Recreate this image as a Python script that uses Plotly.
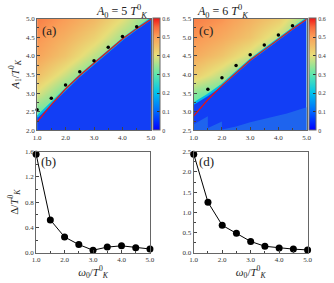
import plotly.graph_objects as go

W, H = 334, 283

# ---------------- data ----------------
omega = [1.0, 1.5, 2.0, 2.5, 3.0, 3.5, 4.0, 4.5, 5.0]

# panel (a): A0 = 5 T_K
a_mark_x = [1.0, 1.5, 2.0, 2.5, 3.0, 3.5, 4.0, 4.5]
a_mark_y = [2.55, 2.86, 3.22, 3.57, 3.87, 4.23, 4.52, 4.78]
a_red = [2.22, 2.69, 3.11, 3.47, 3.80, 4.13, 4.45, 4.73, 4.98]
a_edge = [2.36, 2.72, 3.10, 3.47, 3.80, 4.14, 4.45, 4.73, 5.00]
hm_x = [1.0, 2.0, 3.0, 4.0, 5.0]
a_hm_y = [2.0, 2.5, 3.0, 3.5, 4.0, 4.5, 5.0]
a_hm_z = [
    [0.28, 0.28, 0.28, 0.28, 0.28],
    [0.31, 0.29, 0.28, 0.28, 0.28],
    [0.39, 0.31, 0.29, 0.28, 0.28],
    [0.45, 0.38, 0.30, 0.28, 0.28],
    [0.49, 0.44, 0.37, 0.30, 0.28],
    [0.51, 0.47, 0.42, 0.35, 0.30],
    [0.53, 0.50, 0.46, 0.40, 0.32],
]

# panel (c): A0 = 6 T_K
c_mark_x = [1.5, 2.0, 2.5, 3.0, 3.5, 4.0, 4.5]
c_mark_y = [3.60, 3.91, 4.24, 4.53, 4.79, 5.06, 5.31]
c_red = [2.89, 3.32, 3.70, 4.05, 4.38, 4.66, 4.95, 5.22, 5.48]
c_edge = [3.22, 3.45, 3.72, 4.06, 4.39, 4.67, 4.96, 5.23, 5.50]
c_hm_y = [2.5, 3.0, 3.5, 4.0, 4.5, 5.0, 5.5]
c_hm_z = [
    [0.28, 0.28, 0.28, 0.28, 0.28],
    [0.28, 0.28, 0.28, 0.28, 0.28],
    [0.33, 0.29, 0.28, 0.28, 0.28],
    [0.43, 0.37, 0.29, 0.28, 0.28],
    [0.48, 0.44, 0.38, 0.29, 0.28],
    [0.51, 0.48, 0.44, 0.37, 0.29],
    [0.53, 0.51, 0.47, 0.43, 0.33],
]
c_light_x = [1.0, 1.0, 1.5, 1.5, 2.0, 2.0, 2.5, 3.0, 4.0, 4.3, 5.0, 5.0]
c_light_y = [2.5, 2.66, 2.88, 2.56, 2.74, 2.52, 2.6, 2.72, 2.9, 2.95, 3.12, 2.5]

# panel (b), (d): gap
b_delta = [1.56, 0.52, 0.25, 0.13, 0.04, 0.09, 0.11, 0.08, 0.06]
d_delta = [2.44, 1.25, 0.68, 0.48, 0.28, 0.16, 0.12, 0.09, 0.07]

cbar_ticks = [0, 0.1, 0.2, 0.3, 0.4, 0.5, 0.6]
cbar_text = ["0", "0.1", "0.2", "0.3", "0.4", "0.5", "0.6"]

# ---------------- styling ----------------
SERIF = "Liberation Serif"
BLUE = "rgb(18,62,245)"
LIGHT_BLUE = "rgb(30,100,238)"
scale = [
    [0.0, "rgb(0,0,255)"],
    [0.1667, "rgb(0,105,255)"],
    [0.3333, "rgb(0,195,235)"],
    [0.5, "rgb(95,232,170)"],
    [0.6667, "rgb(232,222,120)"],
    [0.8333, "rgb(250,158,88)"],
    [0.92, "rgb(248,105,60)"],
    [1.0, "rgb(240,20,20)"],
]

fig = go.Figure()


def heat_panel(xa, ya, cax, hy, hz, edge, red, mx, my):
    fig.add_trace(go.Heatmap(x=hm_x, y=hy, z=hz, coloraxis=cax, zsmooth="best",
                             xaxis=xa, yaxis=ya, hoverinfo="skip"))
    fig.add_trace(go.Scatter(x=omega, y=edge, mode="lines", fill="tozeroy",
                             fillcolor=BLUE, line=dict(color="rgb(0,185,232)", width=2.2),
                             xaxis=xa, yaxis=ya, showlegend=False, hoverinfo="skip"))
    fig.add_trace(go.Scatter(x=omega, y=red, mode="lines",
                             line=dict(color="rgb(230,20,20)", width=1.2),
                             xaxis=xa, yaxis=ya, showlegend=False))
    fig.add_trace(go.Scatter(x=mx, y=my, mode="markers",
                             marker=dict(color="black", size=3.5),
                             xaxis=xa, yaxis=ya, showlegend=False, cliponaxis=False))


heat_panel("x", "y", "coloraxis", a_hm_y, a_hm_z, a_edge, a_red, a_mark_x, a_mark_y)
heat_panel("x2", "y2", "coloraxis2", c_hm_y, c_hm_z, c_edge, c_red, c_mark_x, c_mark_y)
fig.add_trace(go.Scatter(x=c_light_x, y=c_light_y, mode="lines", fill="toself",
                         fillcolor=LIGHT_BLUE, line=dict(width=0),
                         xaxis="x2", yaxis="y2", showlegend=False, hoverinfo="skip"))

for xa, ya, vals in [("x3", "y3", b_delta), ("x4", "y4", d_delta)]:
    fig.add_trace(go.Scatter(x=omega, y=vals, mode="lines+markers",
                             line=dict(color="black", width=1),
                             marker=dict(color="black", size=7),
                             xaxis=xa, yaxis=ya, showlegend=False, cliponaxis=False))

tickfont = dict(family=SERIF, size=7, color="#333")
axcommon = dict(showline=True, mirror=True, linecolor="#666", linewidth=1,
                ticks="inside", ticklen=3, tickcolor="#444", showgrid=False,
                zeroline=False, tickfont=tickfont)


def xax(domain, anchor, title=None):
    d = dict(axcommon, domain=domain, anchor=anchor, range=[1, 5],
             tickvals=[1, 2, 3, 4, 5], ticktext=["1.0", "2.0", "3.0", "4.0", "5.0"],
             minor=dict(dtick=0.5, tick0=1, ticks="inside", ticklen=2, tickcolor="#444"))
    if title:
        d["title"] = dict(text=title, font=dict(family=SERIF, size=11, color="#222"), standoff=2)
    return d


def yax(domain, anchor, rng, tv, tt, minor_dt, title=None):
    d = dict(axcommon, domain=domain, anchor=anchor, range=rng, tickvals=tv, ticktext=tt,
             minor=dict(dtick=minor_dt, tick0=rng[0], ticks="inside", ticklen=2, tickcolor="#444"))
    if title:
        d["title"] = dict(text=title, font=dict(family=SERIF, size=11, color="#222"), standoff=4)
    return d


ytop = [1 - 130 / H, 1 - 15 / H]
ybot = [1 - 256 / H, 1 - 152 / H]
WT = "<i>T</i><sup>0</sup><sub><i>K</i></sub>"

cb_common = dict(thickness=7, thicknessmode="pixels", len=(130 - 15) / H, lenmode="fraction",
                 y=1 - 72.5 / H, yanchor="middle", xanchor="left", xpad=0, ypad=0,
                 outlinewidth=1, outlinecolor="#666", tickvals=cbar_ticks, ticktext=cbar_text,
                 ticks="inside", ticklen=3, tickcolor="#333",
                 tickfont=dict(family=SERIF, size=6, color="#333"))

fig.update_layout(
    width=W, height=H, margin=dict(l=0, r=0, t=0, b=0),
    paper_bgcolor="white", plot_bgcolor="white",
    coloraxis=dict(colorscale=scale, cmin=0, cmax=0.6,
                   colorbar=dict(cb_common, x=153 / W)),
    coloraxis2=dict(colorscale=scale, cmin=0, cmax=0.6,
                    colorbar=dict(cb_common, x=313 / W)),
    xaxis=xax([34 / W, 151 / W], "y"),
    yaxis=yax(ytop, "x", [2, 5], [2, 2.5, 3, 3.5, 4, 4.5, 5],
              ["2.0", "2.5", "3.0", "3.5", "4.0", "4.5", "5.0"], 0.25,
              "<i>A</i><sub>1</sub>/" + WT),
    xaxis2=xax([195 / W, 311 / W], "y2"),
    yaxis2=yax(ytop, "x2", [2.5, 5.5], [2.5, 3, 3.5, 4, 4.5, 5, 5.5],
               ["2.5", "3.0", "3.5", "4.0", "4.5", "5.0", "5.5"], 0.25),
    xaxis3=xax([33 / W, 150 / W], "y3", "<i>ω</i><sub>0</sub>/" + WT),
    yaxis3=yax(ybot, "x3", [0, 1.6], [0, 0.4, 0.8, 1.2, 1.6],
               ["0.0", "0.4", "0.8", "1.2", "1.6"], 0.2,
               "Δ/" + WT),
    xaxis4=xax([195 / W, 312 / W], "y4", "<i>ω</i><sub>0</sub>/" + WT),
    yaxis4=yax(ybot, "x4", [0, 2.5], [0, 0.5, 1, 1.5, 2, 2.5],
               ["0.0", "0.5", "1.0", "1.5", "2.0", "2.5"], 0.25),
)

# titles
for xc, txt in [(93, "<i>A</i><sub>0</sub> = 5 " + WT), (253, "<i>A</i><sub>0</sub> = 6 " + WT)]:
    fig.add_annotation(x=xc / W, y=1 - 8 / H, xref="paper", yref="paper", text=txt,
                       yanchor="middle", showarrow=False,
                       font=dict(family=SERIF, size=12, color="#222"))

# panel labels
for lab, xp, yp in [("(a)", 37, 27), ("(c)", 198, 27), ("(b)", 36, 162), ("(d)", 198, 162)]:
    fig.add_annotation(x=xp / W, y=1 - yp / H, xref="paper", yref="paper", text=lab,
                       xanchor="left", yanchor="middle", showarrow=False,
                       font=dict(family=SERIF, size=13, color="#222"))

fig.write_html("out.html", config={"displayModeBar": False},
               post_script="document.body.style.margin='0px';")
